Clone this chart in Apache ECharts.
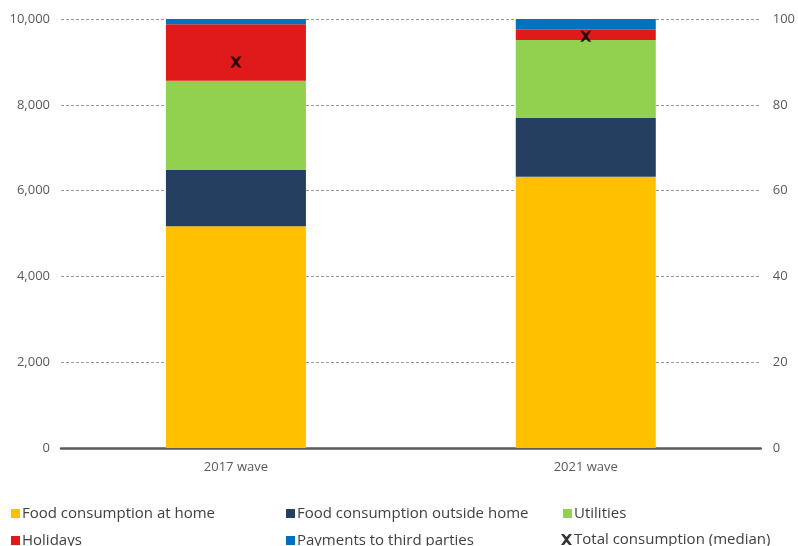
<!DOCTYPE html>
<html>
<head>
<meta charset="utf-8">
<script src="https://cdn.jsdelivr.net/npm/echarts@6/dist/echarts.min.js"></script>
<style>html,body{margin:0;padding:0;background:#fff}#c{width:798px;height:546px}</style>
</head>
<body>
<div id="c"></div>
<script>
var categories = ['2017 wave', '2021 wave'];
var foodHome = [51.7, 63.2];
var foodOutside = [13.1, 13.7];
var utilities = [20.8, 18.2];
var holidays = [13.2, 2.4];
var payments = [1.2, 2.5];
var totalMedian = [9000, 9600];
var leftTicks = [0, 2000, 4000, 6000, 8000, 10000];
var rightTicks = [0, 20, 40, 60, 80, 100];

var colors = {
  'Food consumption at home': '#FFC000',
  'Food consumption outside home': '#243F60',
  'Utilities': '#92D050',
  'Holidays': '#E01A1B',
  'Payments to third parties': '#0070C0'
};
var xPath = 'path://M0,0 L2.6,0 L5,2.7 L7.4,0 L10,0 L6.4,5 L10,10 L7.4,10 L5,7.3 L2.6,10 L0,10 L3.6,5 Z';
var font = '"Open Sans", sans-serif';

function barSeries(name, data) {
  return {
    name: name, type: 'bar', stack: 'total', yAxisIndex: 1,
    data: data, barWidth: 140,
    itemStyle: { color: colors[name] }
  };
}
function leg(name, left, top, icon) {
  return {
    data: [{ name: name, icon: icon || 'rect' }],
    left: left, top: top, itemWidth: icon ? 11 : 9, itemHeight: icon ? 11 : 9, itemGap: 0,
    padding: 0,
    textStyle: { fontFamily: font, fontSize: 15, color: '#404040', padding: [0, 0, 0, -3] },
    selectedMode: false
  };
}

var chart = echarts.init(document.getElementById('c'));
chart.setOption({
  animation: false,
  grid: { left: 61, right: 33, top: 19, bottom: 98 },
  xAxis: {
    type: 'category', data: categories,
    axisLine: { lineStyle: { color: '#595959', width: 2.5 } },
    axisTick: { show: false },
    axisLabel: { fontFamily: font, fontSize: 13, color: '#595959', margin: 13 }
  },
  yAxis: [
    {
      type: 'value', min: leftTicks[0], max: leftTicks[leftTicks.length - 1], interval: 2000,
      axisLine: { show: false }, axisTick: { show: false },
      axisLabel: { fontFamily: font, fontSize: 13, color: '#595959', margin: 11,
        formatter: function (v) { return v.toLocaleString('en-US'); } },
      splitLine: { lineStyle: { color: '#999999', type: [3, 2], width: 1 } }
    },
    {
      type: 'value', min: rightTicks[0], max: rightTicks[rightTicks.length - 1], interval: 20,
      axisLine: { show: false }, axisTick: { show: false },
      axisLabel: { fontFamily: font, fontSize: 13, color: '#595959', margin: 12 },
      splitLine: { show: false }
    }
  ],
  legend: [
    leg('Food consumption at home', 11, 506),
    leg('Food consumption outside home', 286, 506),
    leg('Utilities', 563, 506),
    leg('Holidays', 11, 533),
    leg('Payments to third parties', 286, 533),
    leg('Total consumption (median)', 561, 532, xPath)
  ],
  series: [
    barSeries('Food consumption at home', foodHome),
    barSeries('Food consumption outside home', foodOutside),
    barSeries('Utilities', utilities),
    barSeries('Holidays', holidays),
    barSeries('Payments to third parties', payments),
    {
      name: 'Total consumption (median)', type: 'scatter', yAxisIndex: 0,
      data: totalMedian, symbol: xPath, symbolSize: 11, z: 10,
      itemStyle: { color: '#000000' }
    }
  ]
});
</script>
</body>
</html>
